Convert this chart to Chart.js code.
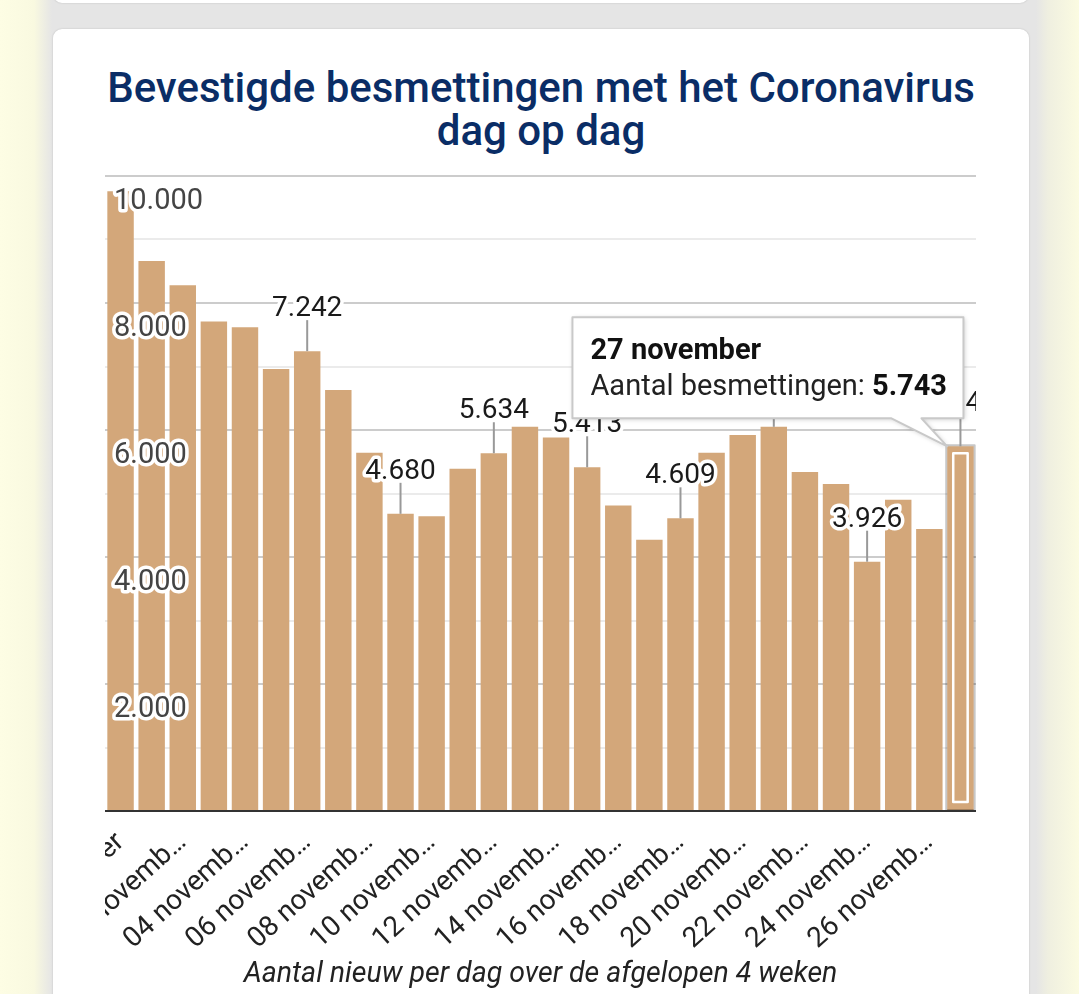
<!DOCTYPE html>
<html>
<head>
<meta charset="utf-8">
<script src="https://cdn.jsdelivr.net/npm/chart.js@4.4.1/dist/chart.umd.min.js"></script>
<style>
  html, body { margin: 0; padding: 0; }
  body {
    width: 1079px; height: 994px; overflow: hidden; position: relative;
    font-family: Roboto, sans-serif;
    background: linear-gradient(to right, #fdfde4 0px, #f9f9e0 34px, #e5e5e5 52px,
                #e5e5e5 1036px, #efefe0 1048px, #fbfbe1 1079px);
  }
  .card-top, .card {
    position: absolute; left: 53px; width: 976px; background: #fff;
    border-radius: 9px; box-shadow: 0 0 2px rgba(0,0,0,0.18);
  }
  .card-top { top: -30px; height: 33px; }
  .card { top: 29px; height: 1000px; }
  .title {
    position: absolute; left: 53px; width: 976px; top: 66px;
    text-align: center; color: #0a2d66;
    font: 500 42px/43px Roboto, sans-serif;
  }
  .wrap { position: absolute; left: 105px; top: 170px; width: 871px; height: 824px; }
</style>
</head>
<body>
<div class="card-top"></div>
<div class="card"></div>
<div class="title">Bevestigde besmettingen met het Coronavirus<br>dag op dag</div>
<div class="wrap"><canvas id="chart"></canvas></div>
<script>
// Dagen van de afgelopen 4 weken.
const dates = [
  '31 oktober', '01 november', '02 november', '03 november', '04 november',
  '05 november', '06 november', '07 november', '08 november', '09 november',
  '10 november', '11 november', '12 november', '13 november', '14 november',
  '15 november', '16 november', '17 november', '18 november', '19 november',
  '20 november', '21 november', '22 november', '23 november', '24 november',
  '25 november', '26 november', '27 november'
];

// Nieuwe besmettingen per dag.
const cases = [
  9760, 8660, 8280, 7710, 7620, 6960, 7242, 6630, 5640, 4680,
  4640, 5390, 5634, 6050, 5880, 5413, 4810, 4270, 4609, 5640,
  5920, 6050, 5340, 5150, 3926, 4900, 4440, 5743
];

// Welke balken een label met streepje hebben, en de tekst ervan.
const annotated = [6, 9, 12, 15, 18, 21, 24, 27];
const annotationText = ['7.242', '4.680', '5.634', '5.413', '4.609', '6.050', '3.926', '4.830'];

// De geselecteerde dag (tooltip).
const selected = 27;
const seriesName = 'Aantal besmettingen';

const yMax = 10000;
const yStep = 1000;

function fmt(n) {
  return n.toLocaleString('nl-NL');
}

const barColor = '#d3a77a';

// Zet lijnen rond af zodat de witte rand om tekst geen punten krijgt.
const roundJoin = {
  id: 'roundJoin',
  beforeDraw(chart) {
    chart.ctx.lineJoin = 'round';
  }
};

// Labels met streepje boven een aantal balken, en de selectie-rand.
const annotations = {
  id: 'annotations',
  afterDatasetsDraw(chart) {
    const ctx = chart.ctx;
    const bars = chart.getDatasetMeta(0).data;

    // Selectie: grijze rand en witte binnenrand.
    const sel = bars[selected];
    const l = sel.x - sel.width / 2, r = sel.x + sel.width / 2;
    ctx.save();
    ctx.strokeStyle = 'rgba(0,0,0,0.22)';
    ctx.lineWidth = 2;
    ctx.strokeRect(l - 1, sel.y - 1, r - l + 2, sel.base - sel.y + 1);
    ctx.strokeStyle = '#fff';
    ctx.lineWidth = 2.5;
    ctx.strokeRect(l + 6, sel.y + 7, r - l - 12, sel.base - sel.y - 15);
    ctx.restore();

    ctx.save();
    ctx.font = '28px Roboto';
    ctx.lineJoin = 'round';
    annotated.forEach((i, k) => {
      const bar = bars[i];
      ctx.strokeStyle = '#999';
      ctx.lineWidth = 2;
      ctx.beginPath();
      ctx.moveTo(bar.x, bar.y - 31);
      ctx.lineTo(bar.x, bar.y);
      ctx.stroke();

      // Het laatste label staat rechts van het streepje.
      let x = bar.x;
      ctx.textAlign = 'center';
      if (i === cases.length - 1) {
        ctx.textAlign = 'left';
        x = bar.x + 5;
      }
      ctx.textBaseline = 'alphabetic';
      ctx.strokeStyle = '#fff';
      ctx.lineWidth = 7;
      ctx.strokeText(annotationText[k], x, bar.y - 35);
      ctx.fillStyle = '#1a1a1a';
      ctx.fillText(annotationText[k], x, bar.y - 35);
    });
    ctx.restore();
  }
};

// Vaste tooltip voor de geselecteerde dag.
const fixedTooltip = {
  id: 'fixedTooltip',
  afterDraw(chart) {
    const ctx = chart.ctx;
    const bar = chart.getDatasetMeta(0).data[selected];
    const w = 391, h = 101;
    const right = bar.x + 3;
    const bottom = bar.y - 28;
    const left = right - w;
    const top = bottom - h;

    ctx.save();
    ctx.beginPath();
    ctx.moveTo(left, top);
    ctx.lineTo(right, top);
    ctx.lineTo(right, bottom);
    ctx.lineTo(right - 42, bottom);
    ctx.lineTo(bar.x - bar.width / 2, bar.y);
    ctx.lineTo(right - 72, bottom);
    ctx.lineTo(left, bottom);
    ctx.closePath();
    ctx.shadowColor = 'rgba(0,0,0,0.22)';
    ctx.shadowBlur = 5;
    ctx.shadowOffsetX = 1;
    ctx.shadowOffsetY = 1;
    ctx.fillStyle = '#fff';
    ctx.fill();
    ctx.shadowColor = 'transparent';
    ctx.strokeStyle = '#c9c9c9';
    ctx.lineWidth = 2;
    ctx.stroke();

    ctx.textAlign = 'left';
    ctx.textBaseline = 'alphabetic';
    ctx.fillStyle = '#111';
    ctx.font = 'bold 29px Roboto';
    ctx.fillText(dates[selected], left + 18, top + 42);

    ctx.font = '29px Roboto';
    const body = seriesName + ': ';
    ctx.fillStyle = '#222';
    ctx.fillText(body, left + 18, top + 78);
    const bw = ctx.measureText(body).width;
    ctx.font = 'bold 29px Roboto';
    ctx.fillStyle = '#111';
    ctx.fillText(fmt(cases[selected]), left + 18 + bw, top + 78);
    ctx.restore();
  }
};

Chart.defaults.font.family = 'Roboto';

new Chart(document.getElementById('chart'), {
  type: 'bar',
  data: {
    labels: dates,
    datasets: [{
      label: seriesName,
      data: cases,
      backgroundColor: barColor,
      borderWidth: 0,
      barPercentage: 0.85,
      categoryPercentage: 1.0
    }]
  },
  options: {
    responsive: true,
    maintainAspectRatio: false,
    animation: false,
    events: [],
    layout: { padding: { top: 6, left: 0, right: 0, bottom: 0 } },
    plugins: {
      legend: { display: false },
      tooltip: { enabled: false }
    },
    scales: {
      x: {
        grid: { display: false },
        border: { display: true, color: '#333', width: 2, z: 1 },
        ticks: {
          autoSkip: false,
          minRotation: 42,
          maxRotation: 42,
          padding: 7,
          color: '#222',
          font: { size: 28 },
          callback: function(value, index) {
            if (index % 2 !== 0) {
              return '';
            }
            const label = this.getLabelForValue(value);
            return label.length > 10 ? label.slice(0, 9) + '\u2026' : label;
          }
        },
        title: {
          display: true,
          text: 'Aantal nieuw per dag over de afgelopen 4 weken',
          color: '#222',
          font: { size: 28.5, style: 'italic' },
          padding: { top: 0, bottom: 2 }
        },
        // Vaste hoogte van de as, geen extra ruimte opzij voor schuine labels.
        afterFit: (scale) => {
          scale.height = 183;
          scale.paddingLeft = 0;
          scale.paddingRight = 0;
        }
      },
      y: {
        min: 0,
        max: yMax,
        border: { display: false },
        grid: {
          drawTicks: false,
          lineWidth: 2,
          color: (c) => {
            const v = c.tick.value;
            if (v === 0) return 'rgba(0,0,0,0)';
            return v % 2000 === 0 ? '#cccccc' : '#ebebeb';
          }
        },
        ticks: {
          stepSize: yStep,
          mirror: true,
          padding: 9,
          labelOffset: 26,
          z: 1,
          color: '#444',
          font: { size: 29 },
          textStrokeColor: '#fff',
          textStrokeWidth: 7,
          callback: (v) => (v > 0 && v % 2000 === 0) ? fmt(v) : ''
        },
        afterFit: (scale) => {
          scale.width = 0;
          scale.paddingTop = 0;
          scale.paddingBottom = 0;
        }
      }
    }
  },
  plugins: [roundJoin, annotations, fixedTooltip]
});
</script>
</body>
</html>
